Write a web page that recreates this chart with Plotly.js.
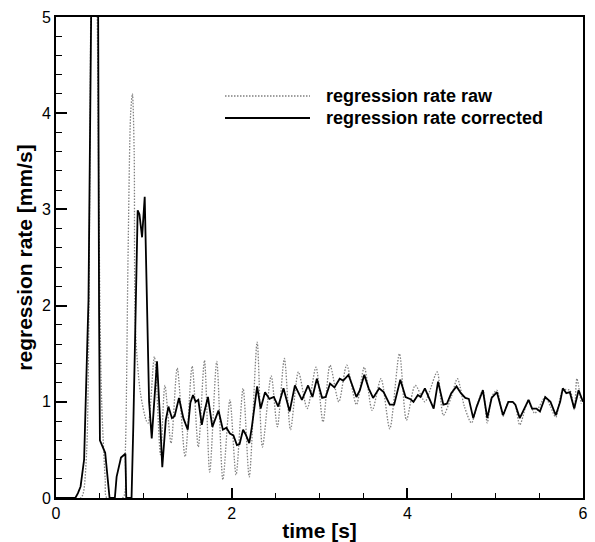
<!DOCTYPE html>
<html>
<head>
<meta charset="utf-8">
<script src="https://cdn.plot.ly/plotly-3.0.1.min.js"></script>
<style>html,body{margin:0;padding:0;background:#fff;}#chart{width:595px;height:542px;}</style>
</head>
<body>
<div id="chart"></div>
<script>
// Series names
const seriesNames = ["regression rate raw", "regression rate corrected"];

// Corrected regression rate (solid)
const corrTime = [0,0.22,0.25,0.28,0.32,0.34,0.37,0.40,0.42,0.46,0.48,0.49,0.50,0.56,0.61,0.67,0.69,0.74,0.79,0.80,0.86,0.88,0.91,0.93,0.95,0.98,1.01,1.03,1.06,1.09,1.12,1.15,1.18,1.21,1.25,1.28,1.32,1.35,1.40,1.45,1.50,1.53,1.56,1.59,1.62,1.66,1.69,1.73,1.78,1.85,1.90,1.94,1.98,2.02,2.06,2.09,2.13,2.16,2.20,2.23,2.29,2.33,2.38,2.43,2.48,2.53,2.59,2.66,2.72,2.80,2.87,2.92,2.97,3.03,3.07,3.12,3.17,3.23,3.27,3.33,3.37,3.42,3.46,3.51,3.56,3.61,3.68,3.73,3.80,3.85,3.92,3.98,4.03,4.07,4.12,4.15,4.20,4.24,4.30,4.35,4.41,4.45,4.50,4.56,4.61,4.66,4.70,4.75,4.79,4.86,4.91,4.96,5.02,5.09,5.15,5.20,5.23,5.28,5.32,5.38,5.42,5.47,5.51,5.57,5.63,5.69,5.74,5.77,5.81,5.85,5.90,5.95,6.00];
const corrRate = [0,0,0.05,0.12,0.40,1.00,2.06,5.00,6.50,6.50,5.00,2.00,0.60,0.47,0.00,0.00,0.22,0.42,0.46,0.00,0.00,0.74,2.20,2.99,2.95,2.71,3.13,2.40,1.00,0.62,1.00,1.42,0.90,0.32,0.81,0.95,0.83,0.85,1.04,0.83,0.71,0.99,1.07,1.00,1.02,0.76,0.90,1.05,0.74,0.91,0.71,0.73,0.67,0.65,0.55,0.56,0.71,0.66,0.57,0.74,1.16,0.93,1.10,1.03,1.05,0.95,1.14,0.90,1.17,1.02,1.17,1.05,1.24,1.04,1.05,1.19,1.15,1.24,1.22,1.28,1.18,1.05,1.12,1.28,1.14,1.04,1.14,1.10,0.97,0.97,1.23,1.05,1.03,1.00,1.07,1.05,1.14,1.05,0.93,1.21,0.97,0.98,1.09,1.16,1.09,1.04,1.03,0.83,0.95,1.12,0.83,1.04,1.10,0.86,1.00,1.00,0.97,0.83,0.90,1.02,0.93,0.93,0.90,1.05,1.00,0.86,1.00,1.14,1.09,1.10,0.93,1.12,1.00];

// Raw regression rate (dotted)
const rawTime = [0,0.28,0.31,0.35,0.37,0.385,0.40,0.42,0.45,0.47,0.50,0.52,0.56,0.58,0.76,0.79,0.82,0.85,0.87,0.89,0.905,0.96,1.03,1.05,1.12,1.19,1.24,1.31,1.38,1.47,1.55,1.62,1.69,1.75,1.83,1.90,1.98,2.05,2.13,2.20,2.29,2.35,2.45,2.52,2.60,2.67,2.76,2.86,2.96,3.04,3.12,3.22,3.31,3.42,3.51,3.60,3.70,3.80,3.91,3.99,4.09,4.20,4.25,4.34,4.41,4.50,4.57,4.65,4.73,4.79,4.86,4.91,4.96,5.02,5.09,5.15,5.22,5.28,5.38,5.45,5.57,5.63,5.69,5.77,5.85,5.90,5.93,5.98];
const rawRate = [0,0,0.05,0.50,1.50,3.40,5.50,6.50,6.50,5.00,2.00,1.00,0.20,0,0,0.50,2.50,4.00,4.20,3.60,1.75,1.10,0.80,0.78,1.47,0.45,1.17,0.57,1.35,0.43,1.37,0.53,1.43,0.27,1.42,0.19,1.02,0.24,1.14,0.22,1.62,0.53,1.27,0.74,1.45,0.71,1.31,0.93,1.36,0.79,1.38,1.00,1.38,0.97,1.36,0.91,1.24,0.72,1.50,0.81,1.17,1.00,1.10,1.31,0.86,1.05,1.24,0.95,0.78,0.95,1.12,0.78,1.05,1.12,0.85,1.00,0.98,0.76,1.02,0.88,1.05,0.95,0.84,1.12,1.12,0.92,1.24,0.98];

const xTickVals = [0, 2, 4, 6];
const yTickVals = [0, 1, 2, 3, 4, 5];

const traces = [
  {x: rawTime, y: rawRate, mode: 'lines', name: seriesNames[0],
   line: {color: '#808080', width: 1.3, dash: '1.5px,1.5px', shape: 'spline', smoothing: 0.8}},
  {x: corrTime, y: corrRate, mode: 'lines', name: seriesNames[1],
   line: {color: '#000000', width: 1.8}}
];

const FONT = 'Liberation Sans, Arial, sans-serif';
const px = v => (v - 56) / 527;
const py = v => (498 - v) / 481;

const layout = {
  width: 595, height: 542,
  margin: {l: 56, r: 12, t: 17, b: 44},
  paper_bgcolor: '#ffffff', plot_bgcolor: '#ffffff',
  showlegend: false,
  font: {family: FONT, color: '#000', size: 16},
  xaxis: {
    range: [0, 6], showgrid: false, zeroline: false,
    showline: true, linecolor: '#000', linewidth: 2, mirror: true,
    ticks: 'inside', ticklen: 10, tickwidth: 2, tickcolor: '#000',
    tickvals: xTickVals, ticktext: xTickVals.map(String),
    tickfont: {family: FONT, size: 16, color: '#000'},
    minor: {dtick: 0.5, ticks: 'inside', ticklen: 5, tickwidth: 1, tickcolor: '#000'},
    title: {text: '<b>time [s]</b>', font: {family: FONT, size: 21, color: '#000'}, standoff: 2}
  },
  yaxis: {
    range: [0, 5], showgrid: false, zeroline: false,
    showline: true, linecolor: '#000', linewidth: 2, mirror: true,
    ticks: 'inside', ticklen: 11, tickwidth: 2, tickcolor: '#000',
    tickvals: yTickVals, ticktext: yTickVals.map(String),
    tickfont: {family: FONT, size: 16, color: '#000'},
    minor: {dtick: 0.2, ticks: 'inside', ticklen: 6, tickwidth: 1, tickcolor: '#000'},
    title: {text: '<b>regression rate [mm/s]</b>', font: {family: FONT, size: 21, color: '#000'}, standoff: 4}
  },
  shapes: [
    {type: 'line', xref: 'paper', yref: 'paper', x0: px(225), x1: px(310), y0: py(96), y1: py(96),
     line: {color: '#808080', width: 1.3, dash: '1.5px,1.5px'}},
    {type: 'line', xref: 'paper', yref: 'paper', x0: px(225), x1: px(310), y0: py(118), y1: py(118),
     line: {color: '#000', width: 1.8}}
  ],
  annotations: [
    {xref: 'paper', yref: 'paper', x: px(324), y: py(96), xanchor: 'left', yanchor: 'middle', showarrow: false,
     text: '<b>' + seriesNames[0] + '</b>', font: {family: FONT, size: 18, color: '#000'}},
    {xref: 'paper', yref: 'paper', x: px(324), y: py(118), xanchor: 'left', yanchor: 'middle', showarrow: false,
     text: '<b>' + seriesNames[1] + '</b>', font: {family: FONT, size: 18, color: '#000'}}
  ]
};

Plotly.newPlot('chart', traces, layout, {staticPlot: true, displayModeBar: false});
</script>
</body>
</html>
